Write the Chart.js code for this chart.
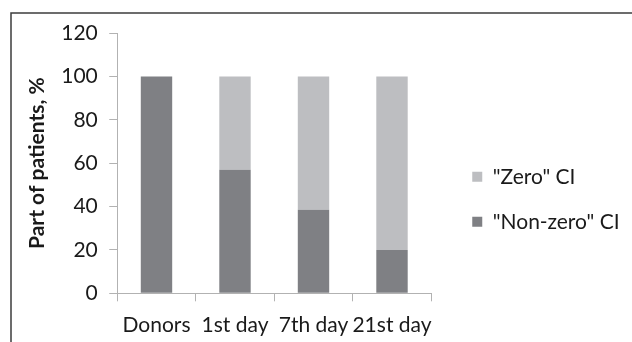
<!DOCTYPE html>
<html>
<head>
<meta charset="utf-8">
<script src="https://cdn.jsdelivr.net/npm/chart.js@4"></script>
<style>
  html, body { margin: 0; padding: 0; background: #ffffff; }
  #wrap { width: 632px; height: 342px; position: relative; }
</style>
</head>
<body>
<div id="wrap"><canvas id="chart"></canvas></div>
<script>
// Share of patients by circulating-index status at each time point
const categories = ['Donors', '1st day', '7th day', '21st day'];
const seriesNames = ['"Non-zero" CI', '"Zero" CI'];
const nonZeroCI = [100, 57, 38.5, 20];
const zeroCI = [0, 43, 61.5, 80];
const yTickValues = [0, 20, 40, 60, 80, 100, 120];

const FONT = 'Lato, "Open Sans", sans-serif';
const DARK = '#7f8084';
const LIGHT = '#bdbec1';
const AXIS = '#b2b2b2';
const TEXT = '#1a1a1a';

// Outer frame around the figure
const framePlugin = {
  id: 'frame',
  beforeDraw(chart, args, opts) {
    const ctx = chart.ctx;
    ctx.save();
    ctx.fillStyle = '#ffffff';
    ctx.fillRect(0, 0, chart.width, chart.height);
    ctx.strokeStyle = opts.color;
    ctx.lineWidth = opts.lineWidth;
    ctx.strokeRect(opts.x, opts.y, chart.width + 50, chart.height + 50);
    ctx.restore();
  }
};

// Moves the legend block away from the plot area and lets it use the
// full right margin (the legend clips its drawing to its own box)
const legendNudge = {
  id: 'legendNudge',
  afterLayout(chart, args, opts) {
    const lg = chart.legend;
    if (!lg) return;
    lg.left += opts.dx;
    lg.right = chart.width;
    lg.width = lg.right - lg.left;
    lg.top += opts.dy; lg.bottom += opts.dy;
  }
};

new Chart(document.getElementById('chart'), {
  type: 'bar',
  data: {
    labels: categories,
    datasets: [
      { label: seriesNames[0], data: nonZeroCI, backgroundColor: DARK,
        categoryPercentage: 0.8, barPercentage: 0.5 },
      { label: seriesNames[1], data: zeroCI, backgroundColor: LIGHT,
        categoryPercentage: 0.8, barPercentage: 0.5 }
    ]
  },
  options: {
    responsive: true,
    maintainAspectRatio: false,
    animation: false,
    devicePixelRatio: 1,
    layout: { padding: { left: 0, right: 57, top: 33, bottom: -7.5 } },
    scales: {
      x: {
        stacked: true,
        grid: { display: true, drawOnChartArea: false, drawTicks: true, tickLength: 8, color: AXIS, offset: true },
        border: { display: true, color: AXIS, width: 1 },
        ticks: { color: TEXT, font: { family: FONT, size: 21 }, padding: 11.5, maxRotation: 0, autoSkip: false }
      },
      y: {
        stacked: true,
        min: 0,
        max: 120,
        afterBuildTicks(scale) { scale.ticks = yTickValues.map(v => ({ value: v })); },
        grid: { display: true, drawOnChartArea: false, drawTicks: true, tickLength: 8, color: AXIS },
        border: { display: true, color: AXIS, width: 1 },
        ticks: { color: TEXT, font: { family: FONT, size: 21 }, padding: 11.5 },
        title: {
          display: true,
          text: 'Part of patients, %',
          color: TEXT,
          font: { family: FONT, size: 21, weight: 'bold' },
          padding: { top: 24.5, bottom: 0 }
        }
      }
    },
    plugins: {
      frame: { x: 11, y: 13, color: '#3c3c3c', lineWidth: 1.5 },
      legendNudge: { dx: 17, dy: 8 },
      legend: {
        position: 'right',
        reverse: true,
        labels: {
          boxWidth: 10,
          boxHeight: 10,
          padding: 24,
          color: TEXT,
          font: { family: FONT, size: 21 }
        }
      },
      tooltip: { enabled: false }
    }
  },
  plugins: [framePlugin, legendNudge]
});
</script>
</body>
</html>
